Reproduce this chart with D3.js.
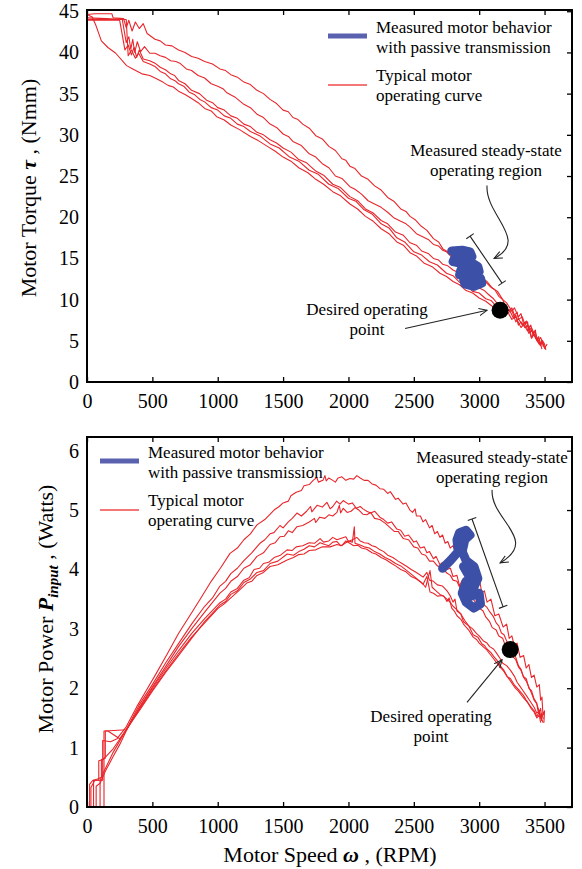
<!DOCTYPE html>
<meta charset="utf-8">
<style>
body { margin: 0; background: #fff; }
svg { font-family: "Liberation Serif", "Times New Roman", serif; }
</style>
<svg width="582" height="869"></svg>
<script src="https://d3js.org/d3.v7.min.js"></script>
<script>
// ---- data (rpm, value) ----
var speedTicks = [0, 500, 1000, 1500, 2000, 2500, 3000, 3500];
var torqueTicks = [0, 5, 10, 15, 20, 25, 30, 35, 40, 45];
var powerTicks = [0, 1, 2, 3, 4, 5, 6];

var torqueRun1 = [[0,44.6],[60,44.7],[190,44.7],[200,44.2],[280,44.1],[300,43.0],[320,43.9],[345,42.6],[370,43.7],[400,42.9],[430,43.5],[460,42.3],[520,41.6],[560,41.4],[600,40.9],[650,40.8],[700,40.3],[750,40.0],[800,39.5],[850,39.3],[900,38.9],[960,38.6],[1016,38.0],[1060,37.8],[1100,37.3],[1150,37.0],[1200,36.4],[1250,36.1],[1300,35.4],[1350,35.0],[1400,34.3],[1450,33.8],[1500,33.0],[1540,32.8],[1575,32.1],[1610,31.9],[1650,31.3],[1700,30.8],[1750,29.9],[1800,29.5],[1850,28.6],[1900,28.1],[1950,27.1],[1980,26.9],[2011,26.2],[2050,25.9],[2100,25.0],[2150,24.6],[2200,23.8],[2250,23.3],[2300,22.4],[2350,21.9],[2400,21.0],[2440,20.7],[2471,20.1],[2510,19.7],[2550,19.0],[2600,18.4],[2650,17.4],[2690,17.0],[2725,16.1],[2760,15.8],[2800,15.2],[2850,14.7],[2900,13.9],[2950,13.5],[3000,12.7],[3040,12.3],[3083,11.6],[3120,11.2],[3150,10.4],[3180,10.0],[3200,9.2],[3230,8.6],[3250,9.0],[3270,8.1],[3290,8.5],[3300,7.6],[3330,7.9],[3350,7.0],[3370,7.3],[3380,6.2],[3400,6.6],[3420,5.9],[3430,6.3],[3440,5.0],[3455,5.5],[3466,4.8],[3480,4.0]];
var torqueRun2 = [[0,44.2],[150,44.1],[270,44.0],[300,41.2],[320,41.9],[335,40.4],[350,41.6],[365,40.0],[385,41.3],[410,40.1],[440,40.7],[480,39.9],[520,39.9],[560,39.6],[600,39.4],[640,39.0],[680,38.9],[710,38.7],[760,38.0],[800,37.8],[850,37.2],[900,36.9],[950,36.2],[1000,35.9],[1040,35.6],[1070,35.1],[1130,34.6],[1200,33.7],[1250,33.3],[1300,32.5],[1350,32.1],[1400,31.3],[1450,30.9],[1500,30.1],[1540,29.8],[1575,29.2],[1640,28.7],[1700,27.7],[1750,27.3],[1800,26.5],[1850,26.0],[1900,25.0],[1950,24.7],[2011,23.7],[2050,23.4],[2100,22.8],[2150,22.0],[2200,21.6],[2250,21.2],[2300,20.6],[2350,19.9],[2400,19.5],[2440,19.2],[2471,18.8],[2520,18.0],[2560,17.7],[2610,17.3],[2650,16.7],[2690,16.5],[2720,16.0],[2750,15.8],[2780,15.3],[2810,15.1],[2850,14.6],[2900,14.2],[2950,13.6],[2990,13.2],[3030,12.5],[3060,12.2],[3100,11.4],[3140,11.0],[3180,10.0],[3210,9.6],[3250,8.6],[3270,9.0],[3300,7.9],[3320,8.3],[3340,7.0],[3360,7.4],[3380,6.6],[3395,6.9],[3410,5.8],[3425,6.2],[3440,5.5],[3455,5.0],[3470,4.6],[3480,5.1],[3490,4.3]];
var torqueRun3 = [[0,43.9],[250,43.9],[290,40.3],[315,40.9],[340,39.7],[360,40.6],[380,39.4],[400,40.3],[430,39.2],[480,39.0],[520,38.7],[560,38.2],[600,37.9],[640,37.4],[670,37.2],[700,36.6],[750,36.2],[800,35.4],[860,35.0],[915,34.2],[960,33.9],[1000,33.3],[1050,33.0],[1100,32.3],[1150,32.0],[1200,31.3],[1250,31.0],[1300,30.3],[1350,30.0],[1400,29.4],[1450,29.0],[1500,28.4],[1560,27.9],[1620,27.0],[1680,26.6],[1750,25.6],[1810,25.1],[1880,24.0],[1940,23.6],[2011,22.5],[2070,22.0],[2130,21.0],[2190,20.5],[2250,19.6],[2300,19.2],[2360,18.2],[2420,17.8],[2471,16.9],[2520,16.6],[2560,15.9],[2610,15.6],[2650,15.0],[2690,14.8],[2720,14.3],[2760,14.1],[2800,13.6],[2850,13.2],[2900,12.5],[2950,12.1],[3000,11.4],[3040,11.1],[3080,10.5],[3110,10.1],[3150,9.3],[3180,9.5],[3220,8.4],[3250,8.7],[3280,7.3],[3300,7.7],[3330,6.9],[3350,7.2],[3380,5.9],[3400,6.3],[3420,5.7],[3435,5.2],[3450,4.9],[3470,5.4],[3490,4.6],[3505,4.0]];
var torqueRun4 = [[0,44.0],[300,44.0],[315,39.6],[340,40.3],[370,39.3],[395,39.9],[430,38.9],[480,38.6],[520,38.3],[560,37.7],[600,37.4],[640,36.8],[670,36.6],[700,36.2],[740,35.9],[780,35.2],[820,34.9],[863,34.3],[900,34.0],[950,33.3],[1000,33.0],[1050,32.3],[1100,32.0],[1150,31.3],[1200,31.0],[1250,30.4],[1320,29.9],[1400,28.9],[1470,28.4],[1550,27.3],[1620,26.8],[1700,25.7],[1770,25.2],[1850,24.0],[1920,23.5],[2000,22.3],[2060,21.9],[2120,20.9],[2180,20.4],[2250,19.2],[2310,18.7],[2370,17.5],[2430,17.0],[2500,15.8],[2560,15.4],[2620,14.6],[2680,14.2],[2750,13.2],[2800,12.9],[2850,12.1],[2900,11.8],[2950,11.0],[3000,10.8],[3050,10.1],[3090,9.9],[3120,9.4],[3160,9.1],[3200,8.5],[3230,8.8],[3260,7.8],[3280,8.1],[3300,6.9],[3320,7.3],[3350,6.6],[3370,6.9],[3400,5.4],[3415,5.9],[3430,5.6],[3445,5.0],[3460,4.6],[3480,5.0],[3500,4.1],[3520,4.6]];
var torqueRun5 = [[0,44.6],[40,44.3],[70,43.2],[110,41.4],[160,40.6],[220,39.9],[303,38.4],[350,38.0],[420,37.4],[480,37.2],[532,36.8],[580,36.4],[620,36.0],[660,35.8],[700,35.3],[750,34.9],[800,34.4],[850,33.9],[900,33.2],[950,32.9],[992,32.2],[1050,31.8],[1100,31.2],[1170,30.6],[1250,29.8],[1310,29.3],[1380,28.6],[1440,28.0],[1500,27.3],[1560,26.8],[1620,26.0],[1690,25.4],[1750,24.6],[1810,24.0],[1880,23.1],[1940,22.6],[2011,21.6],[2070,21.0],[2130,20.1],[2190,19.5],[2250,18.6],[2310,18.0],[2370,17.0],[2420,16.6],[2471,15.7],[2520,15.3],[2580,14.4],[2640,14.0],[2700,13.2],[2750,12.8],[2800,12.2],[2850,11.8],[2900,11.1],[2950,10.8],[3000,10.2],[3050,9.8],[3100,9.2],[3140,9.0],[3180,8.5],[3210,8.7],[3250,7.6],[3280,7.9],[3320,6.6],[3340,7.0],[3370,6.2],[3385,6.6],[3400,5.3],[3420,5.8],[3440,5.2],[3455,4.7],[3470,4.4],[3485,5.0],[3500,4.6],[3510,3.9]];
var torqueMeasured = [[2790,15.9],[2870,16.0],[2930,15.8],[2945,15.2],[2880,15.0],[2820,15.3],[2800,14.6],[2860,14.4],[2940,14.5],[2990,14.0],[3000,13.4],[2940,13.3],[2860,13.6],[2850,13.0],[2920,12.8],[3010,12.6],[3020,12.0],[2960,11.6],[2890,11.9],[2880,12.5],[2950,12.2],[2960,13.0],[2900,14.0],[2850,15.5]];
var torqueDesired = [3160, 8.7];

var powerRun1 = [[0,0],[30,0],[30,0.33],[60,0.45],[120,0.45],[120,1.12],[180,1.1],[230,1.15],[300,1.35],[381,1.69],[450,1.95],[530,2.25],[620,2.6],[700,2.92],[780,3.2],[863,3.49],[950,3.8],[1020,4.02],[1094,4.27],[1150,4.36],[1200,4.5],[1250,4.6],[1300,4.75],[1360,4.84],[1431,5.0],[1470,5.06],[1500,5.12],[1540,5.15],[1560,5.24],[1600,5.3],[1640,5.33],[1660,5.41],[1700,5.43],[1730,5.5],[1758,5.55],[1770,5.47],[1805,5.5],[1820,5.58],[1830,5.49],[1850,5.54],[1880,5.5],[1900,5.47],[1920,5.54],[1950,5.56],[1980,5.5],[2010,5.53],[2040,5.52],[2064,5.58],[2090,5.54],[2120,5.5],[2150,5.5],[2180,5.44],[2210,5.42],[2241,5.36],[2270,5.35],[2300,5.28],[2320,5.31],[2360,5.18],[2380,5.2],[2418,5.1],[2440,5.12],[2470,5.0],[2490,4.96],[2510,5.02],[2520,4.9],[2550,4.9],[2571,4.8],[2590,4.84],[2620,4.7],[2640,4.74],[2660,4.6],[2680,4.64],[2700,4.54],[2720,4.58],[2740,4.44],[2760,4.47],[2778,4.36],[2800,4.4],[2830,4.24],[2850,4.28],[2880,4.1],[2900,4.14],[2930,3.95],[2950,4.0],[2980,3.8],[3000,3.86],[3020,3.6],[3040,3.64],[3060,3.45],[3090,3.5],[3120,3.22],[3150,3.25],[3183,3.03],[3210,3.08],[3230,2.84],[3250,2.88],[3270,2.7],[3290,2.76],[3313,2.52],[3340,2.55],[3360,2.34],[3380,2.4],[3400,2.18],[3420,2.22],[3441,2.02],[3460,2.06],[3470,1.8],[3480,1.85],[3488,1.55],[3500,1.62],[3495,1.42]];
var powerRun2 = [[0,0],[50,0],[50,0.45],[80,0.47],[110,0.5],[110,0.8],[140,0.82],[140,1.28],[300,1.3],[400,1.72],[500,2.06],[600,2.42],[700,2.75],[800,3.08],[900,3.38],[960,3.52],[1017,3.72],[1060,3.8],[1100,3.93],[1150,4.02],[1200,4.15],[1260,4.28],[1323,4.44],[1360,4.5],[1400,4.6],[1430,4.62],[1476,4.74],[1500,4.7],[1540,4.8],[1570,4.86],[1606,4.95],[1640,4.9],[1680,4.98],[1710,5.06],[1720,4.97],[1760,5.08],[1800,5.05],[1835,5.13],[1860,5.02],[1880,5.06],[1910,5.15],[1935,5.1],[1960,5.16],[2000,5.1],[2030,5.12],[2060,5.03],[2090,5.06],[2111,5.02],[2140,4.98],[2170,4.95],[2200,4.98],[2240,4.88],[2270,4.84],[2300,4.78],[2330,4.8],[2370,4.68],[2400,4.66],[2430,4.56],[2460,4.58],[2500,4.46],[2520,4.48],[2550,4.36],[2580,4.38],[2600,4.28],[2620,4.3],[2650,4.18],[2670,4.22],[2700,4.08],[2720,4.12],[2753,4.0],[2780,4.02],[2800,3.88],[2830,3.9],[2850,3.72],[2870,3.82],[2900,3.8],[2930,3.74],[2954,3.68],[2970,3.6],[3000,3.55],[3020,3.48],[3040,3.4],[3060,3.36],[3083,3.28],[3110,3.2],[3130,3.1],[3150,3.05],[3170,2.93],[3190,2.9],[3213,2.78],[3240,2.7],[3260,2.6],[3280,2.52],[3300,2.38],[3320,2.32],[3338,2.2],[3360,2.16],[3380,2.0],[3400,1.96],[3420,1.82],[3440,1.75],[3450,1.62],[3468,1.52],[3480,1.58],[3490,1.48]];
var powerRun3 = [[0,0],[70,0],[70,0.35],[100,0.4],[140,0.6],[200,0.85],[250,1.05],[300,1.28],[400,1.68],[500,2.02],[600,2.36],[700,2.7],[800,3.0],[900,3.28],[1017,3.6],[1060,3.68],[1100,3.8],[1150,3.88],[1200,4.02],[1250,4.08],[1300,4.22],[1350,4.28],[1400,4.42],[1440,4.45],[1476,4.55],[1510,4.56],[1540,4.65],[1570,4.62],[1606,4.72],[1650,4.74],[1700,4.8],[1740,4.86],[1750,4.79],[1780,4.88],[1820,4.86],[1850,4.92],[1880,4.9],[1912,4.96],[1930,5.08],[1940,4.95],[1960,5.03],[1990,4.96],[2020,4.98],[2050,5.04],[2080,5.0],[2110,4.93],[2140,4.92],[2170,4.96],[2200,4.86],[2240,4.84],[2280,4.78],[2310,4.72],[2350,4.64],[2380,4.64],[2420,4.52],[2460,4.5],[2500,4.38],[2530,4.36],[2560,4.26],[2590,4.24],[2620,4.14],[2650,4.14],[2680,4.06],[2710,4.04],[2753,3.94],[2780,3.9],[2800,3.82],[2830,3.8],[2850,3.7],[2880,3.68],[2900,3.6],[2930,3.58],[2954,3.5],[2980,3.42],[3000,3.35],[3030,3.3],[3050,3.2],[3080,3.12],[3100,3.02],[3130,2.98],[3150,2.88],[3180,2.84],[3200,2.72],[3230,2.66],[3250,2.55],[3280,2.48],[3300,2.36],[3320,2.3],[3340,2.18],[3360,2.12],[3380,2.02],[3400,1.92],[3420,1.8],[3440,1.74],[3460,1.6],[3470,1.66],[3480,1.45]];
var powerRun4 = [[0,0],[20,0],[20,0.38],[45,0.45],[90,0.45],[90,0.78],[125,0.8],[200,0.98],[300,1.3],[400,1.66],[500,2.0],[600,2.32],[700,2.63],[800,2.92],[900,3.17],[1017,3.44],[1060,3.5],[1100,3.62],[1150,3.68],[1200,3.82],[1240,3.86],[1278,4.0],[1320,4.02],[1350,4.1],[1390,4.12],[1431,4.2],[1480,4.24],[1531,4.33],[1570,4.32],[1600,4.38],[1650,4.4],[1700,4.45],[1740,4.44],[1783,4.52],[1810,4.46],[1850,4.48],[1880,4.54],[1912,4.5],[1940,4.52],[1980,4.55],[2000,4.47],[2030,4.5],[2064,4.54],[2090,4.48],[2120,4.45],[2150,4.44],[2180,4.4],[2210,4.38],[2241,4.33],[2270,4.3],[2300,4.24],[2340,4.2],[2380,4.14],[2410,4.1],[2447,4.05],[2480,4.0],[2510,3.96],[2540,3.92],[2571,3.87],[2600,3.95],[2620,3.82],[2650,3.8],[2680,3.74],[2720,3.72],[2754,3.64],[2780,3.55],[2800,3.45],[2815,3.5],[2830,3.3],[2860,3.25],[2880,3.12],[2920,3.05],[2954,2.9],[2990,2.86],[3020,2.75],[3040,2.72],[3060,2.66],[3090,2.6],[3109,2.54],[3140,2.46],[3160,2.38],[3190,2.3],[3213,2.2],[3240,2.16],[3270,2.05],[3300,1.98],[3338,1.88],[3360,1.8],[3390,1.7],[3420,1.62],[3441,1.53],[3460,1.6],[3480,1.45]];
var powerRun5 = [[0,0],[100,0],[100,0.45],[130,0.6],[200,0.92],[300,1.3],[400,1.64],[500,1.97],[600,2.28],[700,2.58],[800,2.86],[900,3.1],[1000,3.34],[1050,3.42],[1100,3.52],[1160,3.64],[1222,3.77],[1260,3.8],[1300,3.9],[1350,3.95],[1400,4.05],[1460,4.08],[1531,4.16],[1580,4.2],[1620,4.25],[1660,4.26],[1700,4.32],[1750,4.33],[1800,4.38],[1860,4.38],[1912,4.42],[1950,4.4],[1980,4.48],[2010,4.44],[2040,4.4],[2070,4.41],[2100,4.36],[2140,4.34],[2180,4.28],[2210,4.26],[2250,4.2],[2290,4.16],[2330,4.1],[2360,4.06],[2400,4.0],[2440,3.96],[2480,3.88],[2520,3.84],[2560,3.78],[2590,3.7],[2624,3.98],[2640,3.7],[2670,3.64],[2700,3.58],[2730,3.55],[2754,3.46],[2770,3.52],[2790,3.35],[2810,3.3],[2830,3.22],[2860,3.16],[2880,3.08],[2920,2.98],[2954,2.86],[2980,2.82],[3000,2.76],[3030,2.7],[3060,2.64],[3080,2.58],[3109,2.5],[3130,2.44],[3160,2.36],[3190,2.28],[3213,2.2],[3240,2.12],[3270,2.02],[3300,1.95],[3338,1.84],[3370,1.76],[3400,1.65],[3420,1.6],[3441,1.5],[3460,1.55],[3470,1.42]];
var powerRun6 = [[0,0],[130,0],[130,1.28],[160,1.28],[250,1.15],[300,1.3],[400,1.62],[500,1.95],[600,2.26],[700,2.55],[800,2.84],[900,3.12],[1017,3.4],[1060,3.46],[1100,3.58],[1150,3.64],[1200,3.78],[1250,3.84],[1300,3.95],[1350,3.98],[1400,4.1],[1460,4.14],[1531,4.26],[1580,4.24],[1620,4.3],[1660,4.34],[1700,4.4],[1740,4.38],[1783,4.45],[1820,4.42],[1850,4.4],[1880,4.46],[1912,4.47],[1940,4.4],[1960,4.42],[2000,4.48],[2030,4.46],[2045,4.72],[2050,4.44],[2080,4.42],[2120,4.38],[2160,4.36],[2200,4.3],[2240,4.26],[2280,4.2],[2320,4.16],[2360,4.1],[2400,4.06],[2447,3.98],[2480,3.92],[2520,3.85],[2545,3.8],[2571,3.75],[2600,3.88],[2624,3.62],[2650,3.6],[2680,3.55],[2720,3.56],[2754,3.5],[2780,3.44],[2800,3.38],[2830,3.32],[2860,3.25],[2890,3.14],[2920,3.05],[2950,3.0],[2980,2.92],[3000,2.88],[3030,2.8],[3060,2.76],[3080,2.7],[3110,2.66],[3130,2.6],[3160,2.5],[3180,2.42],[3210,2.38],[3240,2.3],[3270,2.2],[3290,2.1],[3310,2.04],[3338,1.95],[3360,1.88],[3390,1.78],[3420,1.68],[3441,1.58],[3460,1.62],[3470,1.5],[3490,1.42]];
var powerMeasured = [[2720,4.02],[2780,4.15],[2840,4.3],[2830,4.5],[2850,4.62],[2900,4.66],[2930,4.58],[2890,4.5],[2870,4.3],[2900,4.15],[2960,4.05],[2990,3.85],[2960,3.7],[2900,3.8],[2870,3.6],[2900,3.45],[2960,3.35],[3010,3.42],[3000,3.6],[2940,3.55],[2920,3.9],[2880,4.05]];
var powerDesired = [3237, 2.65];

var legendLabels = [["Measured motor behavior", "with passive transmission"], ["Typical motor", "operating curve"]];

var torqueRuns = [torqueRun1, torqueRun2, torqueRun3, torqueRun4, torqueRun5];
var powerRuns = [powerRun1, powerRun2, powerRun3, powerRun4, powerRun5, powerRun6];

var red = "#e8262b", blue = "#3b50a6";
var svg = d3.select("svg");
var W = 485;
var x = d3.scaleLinear().domain([0, 3710]).range([0, W]);

svg.append("defs").append("marker")
    .attr("id", "arrow")
    .attr("viewBox", "0 0 10 10")
    .attr("refX", 9).attr("refY", 5)
    .attr("markerWidth", 9).attr("markerHeight", 9)
    .attr("markerUnits", "userSpaceOnUse")
    .attr("orient", "auto")
  .append("path")
    .attr("d", "M0,1 L9,5 L0,9")
    .attr("fill", "none").attr("stroke", "#222").attr("stroke-width", 1.2);

function panel(top, h, ymax, yTicks, runs, measured, desired) {
  var g = svg.append("g").attr("transform", "translate(87," + top + ")");
  var y = d3.scaleLinear().domain([0, ymax]).range([h, 0]);
  var line = d3.line().x(function(d) { return x(d[0]); }).y(function(d) { return y(d[1]); });

  g.append("g").attr("transform", "translate(0," + h + ")")
      .call(d3.axisBottom(x).tickValues(speedTicks).tickFormat(d3.format("d"))
        .tickSizeInner(-5).tickSizeOuter(0).tickPadding(12));
  g.append("g")
      .call(d3.axisTop(x).tickValues(speedTicks).tickSizeInner(-5).tickSizeOuter(0).tickFormat(""));
  g.append("g").attr("transform", "translate(" + W + ",0)")
      .call(d3.axisRight(y).tickValues(yTicks).tickSizeInner(-5).tickSizeOuter(0).tickFormat(""));
  g.append("g")
      .call(d3.axisLeft(y).tickValues(yTicks).tickFormat(d3.format("d"))
        .tickSizeInner(0).tickSizeOuter(0).tickPadding(8));
  g.selectAll(".domain").remove();
  g.selectAll(".tick text")
      .attr("font-family", "Liberation Serif, serif")
      .attr("font-size", 20)
      .attr("fill", "#000");
  g.selectAll(".tick line").attr("stroke", "#000").attr("stroke-width", 1.3);

  g.selectAll("path.run")
    .data(runs)
    .enter().append("path")
      .attr("class", "run")
      .attr("d", line)
      .attr("fill", "none")
      .attr("stroke", red)
      .attr("stroke-width", 1.1)
      .attr("stroke-linejoin", "round");

  g.append("path")
      .attr("d", line(measured))
      .attr("fill", "none")
      .attr("stroke", blue)
      .attr("stroke-width", 9)
      .attr("stroke-linejoin", "round")
      .attr("stroke-linecap", "round");

  g.append("circle")
      .attr("cx", x(desired[0])).attr("cy", y(desired[1]))
      .attr("r", 8.5).attr("fill", "#000");

  g.append("rect")
      .attr("width", W).attr("height", h)
      .attr("fill", "none").attr("stroke", "#000").attr("stroke-width", 2);

  return { g: g, y: y };
}

function annotate(p, region, bar, curve, pointArrow, pointText) {
  var g = p.g, y = p.y;
  var t = g.append("text").attr("text-anchor", "middle").attr("font-size", 17);
  t.append("tspan").attr("x", region[0]).attr("y", region[1]).text("Measured steady-state");
  t.append("tspan").attr("x", region[0]).attr("y", region[1] + 20).text("operating region");

  // I-bar over the measured region
  var a = [x(bar[0][0]), y(bar[0][1])], b = [x(bar[1][0]), y(bar[1][1])];
  var dx = b[0] - a[0], dy = b[1] - a[1], L = Math.sqrt(dx * dx + dy * dy);
  var px = -dy / L * 4.5, py = dx / L * 4.5;
  var ib = g.append("g").attr("stroke", "#222").attr("stroke-width", 1.1);
  ib.append("line").attr("x1", a[0]).attr("y1", a[1]).attr("x2", b[0]).attr("y2", b[1]);
  [a, b].forEach(function(c) {
    ib.append("line").attr("x1", c[0] - px).attr("y1", c[1] - py).attr("x2", c[0] + px).attr("y2", c[1] + py);
  });

  var c = curve.map(function(d) { return [x(d[0]), y(d[1])]; });
  g.append("path")
      .attr("d", "M" + c[0] + "C" + c[1] + " " + c[2] + " " + c[3])
      .attr("fill", "none").attr("stroke", "#222").attr("stroke-width", 1.1)
      .attr("marker-end", "url(#arrow)");

  g.append("line")
      .attr("x1", x(pointArrow[0][0])).attr("y1", y(pointArrow[0][1]))
      .attr("x2", x(pointArrow[1][0])).attr("y2", y(pointArrow[1][1]))
      .attr("stroke", "#222").attr("stroke-width", 1.1)
      .attr("marker-end", "url(#arrow)");

  var t2 = g.append("text").attr("text-anchor", "middle").attr("font-size", 17);
  t2.append("tspan").attr("x", pointText[0]).attr("y", pointText[1]).text("Desired operating");
  t2.append("tspan").attr("x", pointText[0]).attr("y", pointText[1] + 20).text("point");
}

function legend(g, lx, ly) {
  g.append("line").attr("x1", lx).attr("x2", lx + 39).attr("y1", ly + 3).attr("y2", ly + 3)
      .attr("stroke", "#5a62b0").attr("stroke-width", 5);
  g.append("line").attr("x1", lx).attr("x2", lx + 39).attr("y1", ly + 52).attr("y2", ly + 52)
      .attr("stroke", "#f04a4a").attr("stroke-width", 1.5);
  legendLabels.forEach(function(lines, i) {
    lines.forEach(function(s, j) {
      g.append("text").attr("x", lx + 48).attr("y", ly + i * 48 + j * 20)
          .attr("font-size", 17).text(s);
    });
  });
}

// top panel: torque
var torquePanel = panel(10, 372, 45.15, torqueTicks, torqueRuns, torqueMeasured, torqueDesired);
legend(torquePanel.g, 241, 23);
annotate(torquePanel, [399, 146],
    [[2930, 17.7], [3175, 12.0]],
    [[3060, 23.85], [3045, 20.2], [3390, 17.2], [3114, 15.0]],
    [[2433, 6.5], [3060, 8.7]],
    [280, 305]);

// bottom panel: power
var powerPanel = panel(437, 370, 6.23, powerTicks, powerRuns, powerMeasured, powerDesired);
legend(powerPanel.g, 13, 21);
annotate(powerPanel, [405, 26],
    [[2945, 4.85], [3183, 3.37]],
    [[3099, 5.34], [3083, 4.84], [3466, 4.5], [3160, 4.11]],
    [[2907, 1.76], [3175, 2.48]],
    [344, 285]);

// axis titles
var t1 = svg.append("text").attr("transform", "translate(36,188) rotate(-90)")
    .attr("text-anchor", "middle").attr("font-size", 22);
t1.append("tspan").text("Motor Torque ");
t1.append("tspan").attr("font-weight", "bold").attr("font-style", "italic").text("τ");
t1.append("tspan").text(" , (Nmm)");

var t2 = svg.append("text").attr("transform", "translate(53,609) rotate(-90)")
    .attr("text-anchor", "middle").attr("font-size", 22);
t2.append("tspan").text("Motor Power ");
t2.append("tspan").attr("font-weight", "bold").attr("font-style", "italic").text("P");
t2.append("tspan").attr("font-weight", "bold").attr("font-style", "italic").attr("font-size", 15).attr("dy", 5).text("input");
t2.append("tspan").attr("dy", -5).text(" , (Watts)");

var t3 = svg.append("text").attr("x", 330).attr("y", 862)
    .attr("text-anchor", "middle").attr("font-size", 22);
t3.append("tspan").text("Motor Speed ");
t3.append("tspan").attr("font-weight", "bold").attr("font-style", "italic").text("ω");
t3.append("tspan").text(" , (RPM)");
</script>
